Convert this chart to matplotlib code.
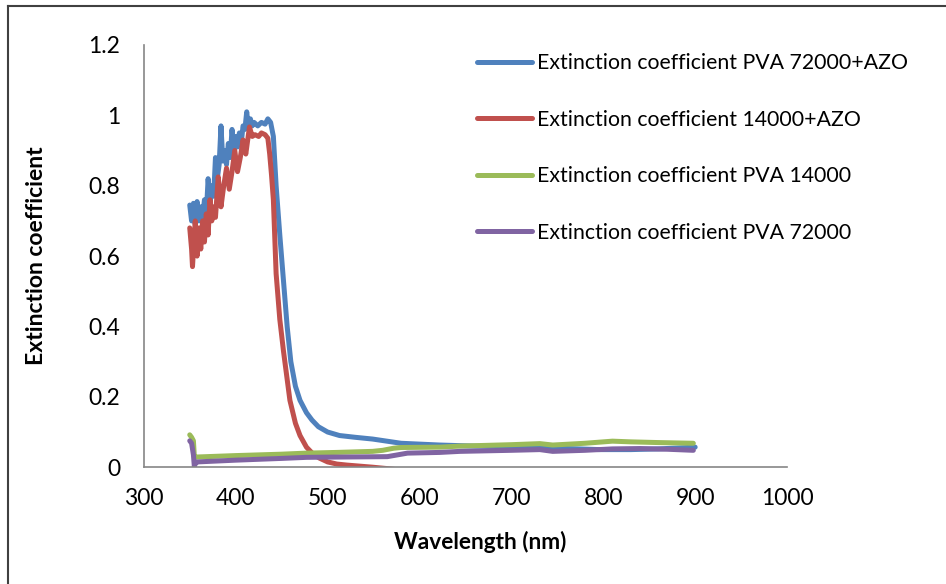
import matplotlib
matplotlib.use("Agg")
import matplotlib.pyplot as plt
from matplotlib.lines import Line2D

plt.rcParams['font.family'] = ['Lato', 'DejaVu Sans']

# PVA 72000 + AZO (blue)
wl_blue = [350, 352, 354, 356, 358, 360, 362, 364, 366, 368, 370, 372, 374, 376,
           378, 380, 382, 384, 386, 388, 390, 392, 394, 396, 398, 400, 402, 404,
           406, 408, 410, 412, 414, 416, 418, 420, 424, 428, 432, 435, 438, 441,
           444, 448, 452, 456, 460, 465, 470, 477, 483, 490, 500, 513, 530, 549,
           580, 622, 660, 700, 750, 796, 830, 860, 900]
k_blue = [0.745, 0.70, 0.75, 0.69, 0.755, 0.70, 0.74, 0.71, 0.76, 0.72, 0.82, 0.75,
          0.80, 0.77, 0.88, 0.82, 0.86, 0.97, 0.87, 0.90, 0.86, 0.92, 0.88, 0.96,
          0.90, 0.94, 0.91, 0.95, 0.92, 0.97, 0.96, 1.01, 0.96, 0.99, 0.97, 0.98,
          0.97, 0.98, 0.975, 0.99, 0.98, 0.94, 0.80, 0.66, 0.53, 0.40, 0.30, 0.23,
          0.19, 0.155, 0.134, 0.115, 0.10, 0.09, 0.085, 0.080, 0.068, 0.063, 0.060,
          0.058, 0.054, 0.050, 0.050, 0.052, 0.057]

# PVA 14000 + AZO (red)
wl_red = [350, 352, 353, 355, 356, 358, 360, 362, 364, 366, 368, 370, 372, 374,
          376, 378, 381, 384, 387, 390, 393, 396, 399, 402, 405, 408, 411, 415,
          418, 421, 425, 428, 432, 435, 437, 439, 441, 444, 448, 452, 459, 465,
          470, 477, 484, 491, 500, 510, 521, 535, 549, 565, 578, 590]
k_red = [0.68, 0.62, 0.57, 0.66, 0.70, 0.60, 0.68, 0.62, 0.70, 0.64, 0.72, 0.66,
         0.76, 0.70, 0.74, 0.71, 0.825, 0.74, 0.80, 0.85, 0.79, 0.84, 0.90, 0.84,
         0.88, 0.93, 0.89, 0.967, 0.94, 0.945, 0.94, 0.95, 0.945, 0.935, 0.89,
         0.83, 0.76, 0.55, 0.42, 0.33, 0.19, 0.125, 0.09, 0.057, 0.038, 0.026,
         0.015, 0.009, 0.006, 0.003, 0.0, -0.004, -0.008, -0.014]

# PVA 14000 (green)
wl_green = [350, 352, 354, 355, 358, 400, 450, 477, 510, 549, 560, 572, 580, 622,
            644, 700, 731, 745, 780, 810, 830, 860, 898]
k_green = [0.092, 0.085, 0.075, 0.03, 0.029, 0.033, 0.037, 0.040, 0.042, 0.045,
           0.048, 0.054, 0.056, 0.057, 0.060, 0.064, 0.067, 0.063, 0.068, 0.074,
           0.072, 0.070, 0.068]

# PVA 72000 (purple)
wl_purple = [350, 352, 354, 355, 356, 358, 400, 450, 477, 520, 565, 587, 622, 644,
             700, 731, 745, 780, 810, 840, 870, 898]
k_purple = [0.075, 0.068, 0.035, 0.002, 0.01, 0.015, 0.020, 0.025, 0.028, 0.029,
            0.030, 0.040, 0.042, 0.045, 0.048, 0.050, 0.045, 0.048, 0.052, 0.053,
            0.051, 0.048]

series = [
    (wl_blue, k_blue, "#4F81BD", "Extinction coefficient PVA 72000+AZO"),
    (wl_red, k_red, "#C0504D", "Extinction coefficient 14000+AZO"),
    (wl_green, k_green, "#9BBB59", "Extinction coefficient PVA 14000"),
    (wl_purple, k_purple, "#8064A2", "Extinction coefficient PVA 72000"),
]

fig = plt.figure(figsize=(9.46, 5.84), dpi=100)
ax = fig.add_axes([0.152, 0.2, 0.680, 0.723])

for wl, k, color, label in series:
    ax.plot(wl, k, color=color, lw=3.6, label=label,
            solid_joinstyle="round", solid_capstyle="round")

ax.set_xlim(300, 1000)
ax.set_ylim(0, 1.2)
ax.set_xticks(range(300, 1001, 100))
ax.set_yticks([0, 0.2, 0.4, 0.6, 0.8, 1.0, 1.2])
ax.set_yticklabels(["0", "0.2", "0.4", "0.6", "0.8", "1", "1.2"])
ax.tick_params(length=0, labelsize=16.5, colors="black")
ax.tick_params(axis="y", pad=17)
ax.tick_params(axis="x", pad=15)

for side in ["top", "right"]:
    ax.spines[side].set_visible(False)
for side in ["left", "bottom"]:
    ax.spines[side].set_color("#868686")
    ax.spines[side].set_linewidth(1.2)

ax.set_xlabel("Wavelength (nm)", fontsize=16.3, fontweight="bold")
ax.set_ylabel("Extinction coefficient", fontsize=16.5, fontweight="bold")
ax.xaxis.set_label_coords(0.523, -0.152)
ax.yaxis.set_label_coords(-0.151, 0.5)

ax.legend(loc="upper left", bbox_to_anchor=(0.504, 0.909),
          bbox_transform=fig.transFigure, frameon=False, fontsize=15.3,
          handlelength=2.6, handletextpad=0.25, labelspacing=1.72,
          borderpad=0, borderaxespad=0)

# chart area border (left and top visible)
fig.add_artist(Line2D([8 / 946, 8 / 946], [0, 1 - 6 / 584], color="#404040", lw=1.5))
fig.add_artist(Line2D([8 / 946, 1], [1 - 6 / 584, 1 - 6 / 584], color="#404040", lw=1.5))

fig.savefig("out.png", dpi=100)
